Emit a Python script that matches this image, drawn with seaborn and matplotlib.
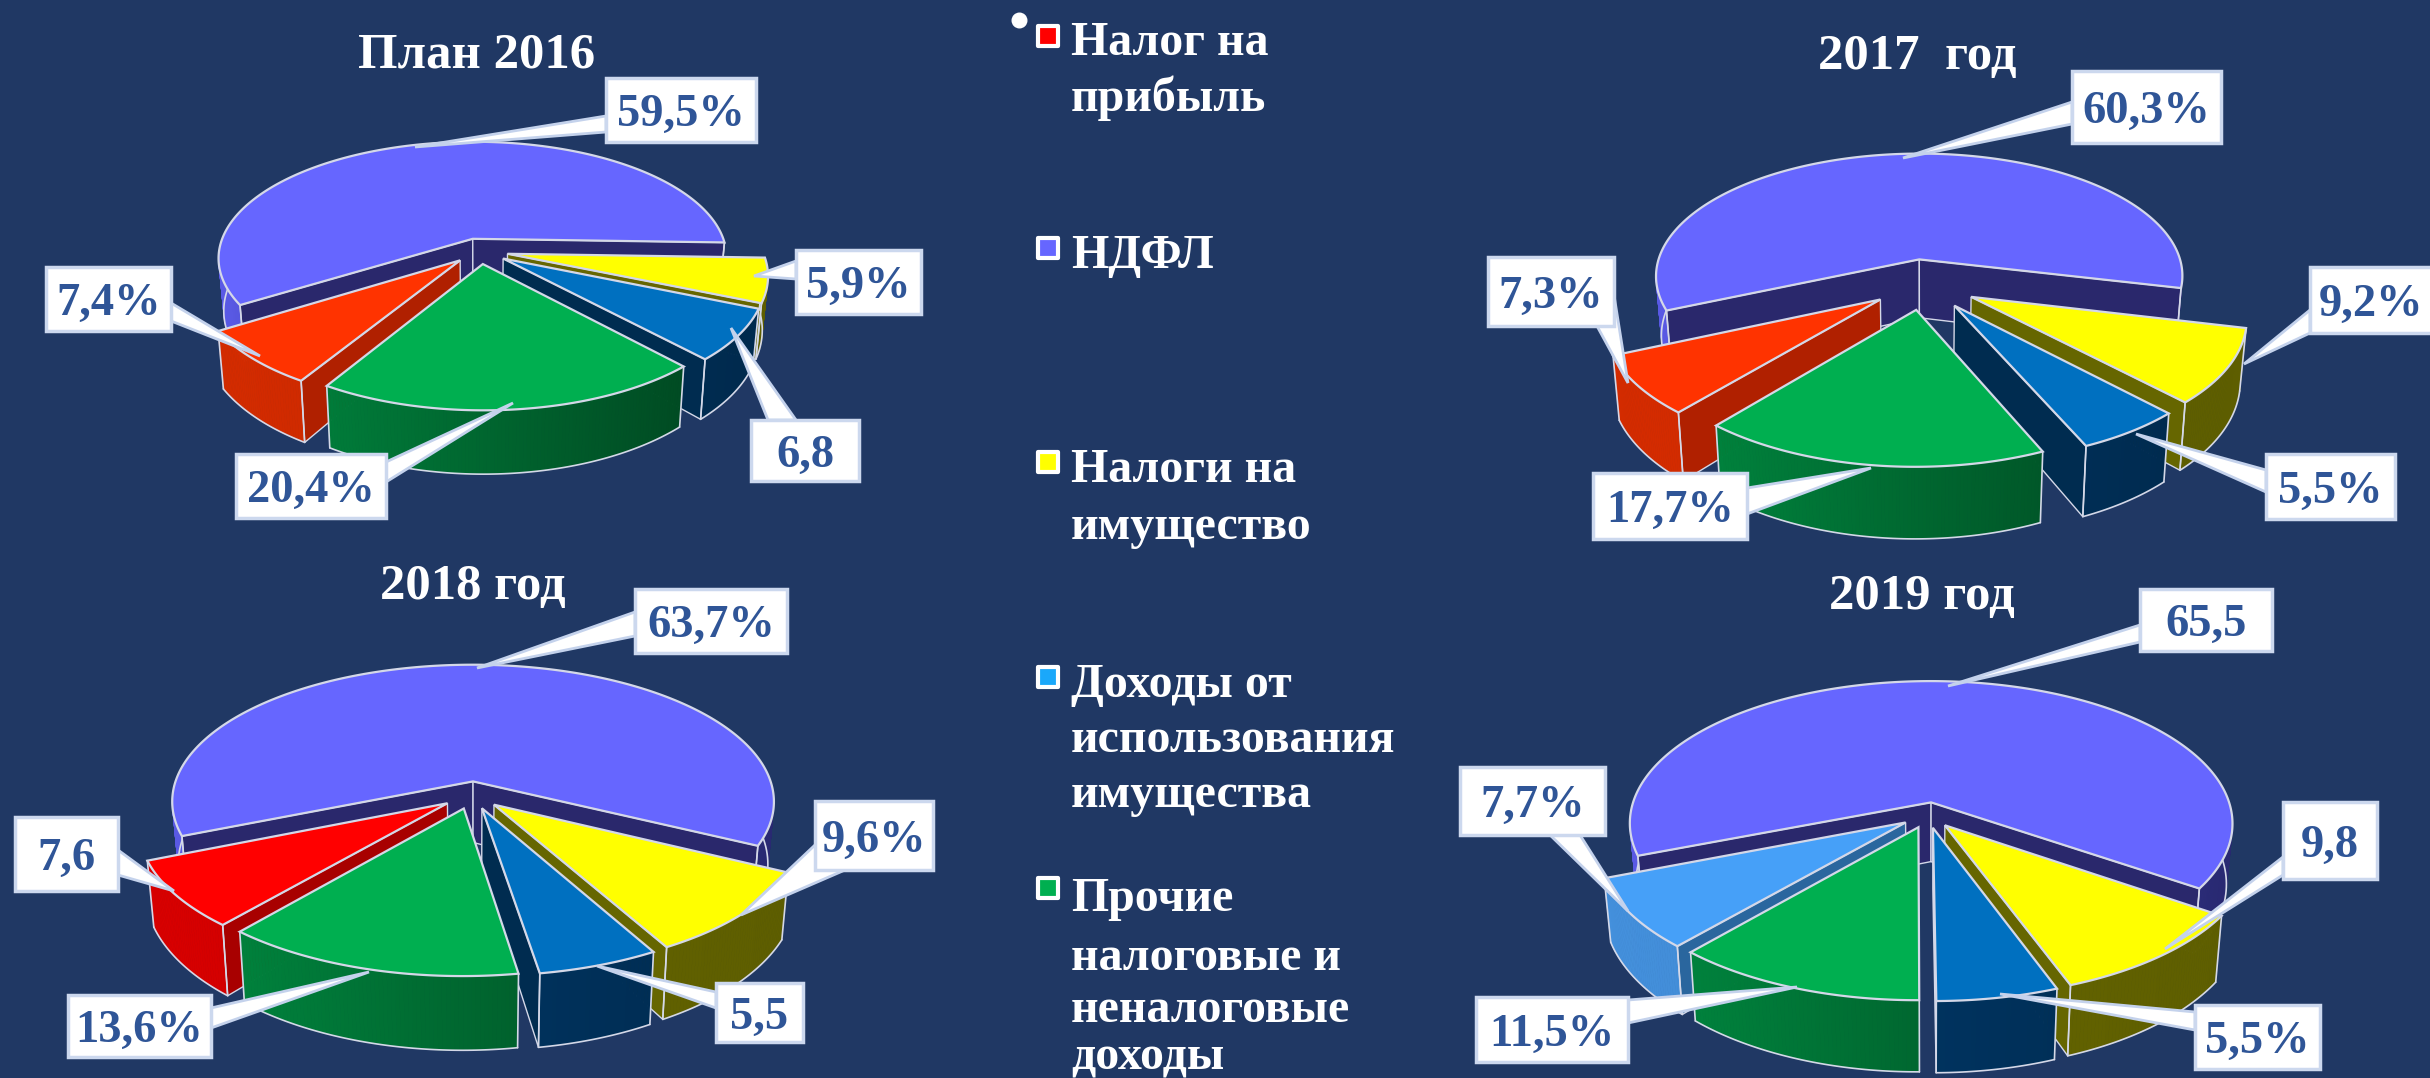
import numpy as np
import pandas as pd
import matplotlib
matplotlib.use("Agg")
import matplotlib.pyplot as plt
from matplotlib.patches import Polygon
import seaborn as sns

# ---------- data ----------
CATEGORIES = ["Налог на прибыль", "НДФЛ", "Налоги на имущество", "Доходы от использования имущества",
              "Прочие налоговые и неналоговые доходы"]
VALUES_2016 = [7.4, 59.5, 5.9, 6.8, 20.4]
VALUES_2017 = [7.3, 60.3, 9.2, 5.5, 17.7]
VALUES_2018 = [7.6, 63.7, 9.6, 5.5, 13.6]
VALUES_2019 = [7.7, 65.5, 9.8, 5.5, 11.5]
LABELS_2016 = ["7,4%", "59,5%", "5,9%", "6,8", "20,4%"]
LABELS_2017 = ["7,3%", "60,3%", "9,2%", "5,5%", "17,7%"]
LABELS_2018 = ["7,6", "63,7%", "9,6%", "5,5", "13,6%"]
LABELS_2019 = ["7,7%", "65,5", "9,8", "5,5%", "11,5%"]
TITLES = ["План 2016", "2017  год", "2018 год", "2019 год"]
LEGEND_LINES = [["Налог на", "прибыль"], ["НДФЛ"], ["Налоги на", "имущество"],
                ["Доходы от", "использования", "имущества"],
                ["Прочие", "налоговые и", "неналоговые", "доходы"]]

# ---------- style ----------
BG = "#203864"
SERIF = "Liberation Serif"
LABEL_BLUE = "#2F5597"
EDGE = "#d4d8e8"
# (top face, wall left, wall right, radial wall)
ORANGE = ("#FF3300", "#D42B00", "#B82400", "#B02000")
PURE_RED = ("#FF0000", "#D80000", "#B00000", "#A80000")
LIGHT = ("#46A0F8", "#4490DC", "#3478B8", "#2A669E")
PURPLE = ("#6666FF", "#5A5AE6", "#282870", "#2A286C")
YELLOW = ("#FFFF00", "#6A6A00", "#5E5E00", "#666600")
BLUE = ("#0070C0", "#003C70", "#002A4E", "#002C50")
GREEN = ("#00AF50", "#008A40", "#00441F", "#00602C")
LEGEND_COLORS = ["#FF0000", "#6666FF", "#FFFF00", "#1AA8FA", "#00AF50"]

# geometry of each pie (pixels): centre, radii, perspective, depth, first-slice angle, explosion
PIES = [
    dict(values=VALUES_2016, labels=LABELS_2016, first=211, c=(480, 251), R=255, Ry=117, p=.167, depth=52, e=.11,
         colors=[ORANGE, PURPLE, YELLOW, BLUE, GREEN], title=(477, 50),
         boxes=[((46, 267, 171, 331), (260, 356), (171, 303), (171, 321)),
                ((606, 78, 756, 142), (415, 147), (606, 116), (606, 132)),
                ((796, 250, 921, 314), (754, 276), (796, 261), (796, 279)),
                ((751, 420, 859, 481), (731, 328), (768, 420), (796, 420)),
                ((236, 454, 386, 518), (513, 403), (386, 462), (386, 482))]),
    dict(values=VALUES_2017, labels=LABELS_2017, first=220, c=(1924, 284), R=268, Ry=127, p=.14, depth=60, e=.2,
         colors=[ORANGE, PURPLE, YELLOW, BLUE, GREEN], title=(1917, 51),
         boxes=[((1488, 257, 1614, 326), (1628, 383), (1597, 326), (1614, 295)),
                ((2072, 71, 2221, 143), (1903, 158), (2072, 102), (2072, 124)),
                ((2310, 267, 2432, 333), (2244, 364), (2310, 310), (2310, 333)),
                ((2266, 454, 2395, 519), (2136, 434), (2266, 470), (2266, 492)),
                ((1593, 473, 1747, 539), (1871, 468), (1747, 488), (1747, 514))]),
    dict(values=VALUES_2018, labels=LABELS_2018, first=220, c=(472, 795), R=302, Ry=138, p=.15, depth=62, e=.1,
         colors=[PURE_RED, PURPLE, YELLOW, BLUE, GREEN], title=(473, 581),
         boxes=[((15, 817, 118, 891), (174, 891), (118, 850), (118, 875)),
                ((635, 589, 787, 653), (477, 668), (635, 612), (635, 636)),
                ((815, 801, 933, 870), (741, 915), (815, 845), (845, 870)),
                ((716, 983, 803, 1042), (597, 966), (716, 992), (716, 1008)),
                ((68, 995, 211, 1057), (369, 972), (211, 1008), (211, 1028))]),
    dict(values=VALUES_2019, labels=LABELS_2019, first=221, c=(1928, 815), R=302, Ry=143, p=.15, depth=60, e=.09,
         colors=[LIGHT, PURPLE, YELLOW, BLUE, GREEN], title=(1922, 591),
         boxes=[((1460, 767, 1605, 835), (1628, 911), (1550, 835), (1580, 835)),
                ((2140, 589, 2272, 651), (1948, 686), (2140, 625), (2140, 642)),
                ((2283, 802, 2377, 879), (2165, 949), (2283, 857), (2283, 875)),
                ((2195, 1005, 2320, 1069), (2000, 994), (2195, 1012), (2195, 1030)),
                ((1476, 997, 1628, 1062), (1797, 987), (1628, 1000), (1628, 1023))]),
]
LEGEND_MARK_X = 1048
LEGEND_MARK_Y = [36, 248, 462, 677, 888]
LEGEND_TEXT_Y = [[38, 93], [251], [465, 522], [680, 735, 790], [894, 953, 1005, 1052]]

sns.set_theme(style="white", rc={"figure.facecolor": BG, "axes.facecolor": BG})
plt.rcParams["font.family"] = [SERIF, "DejaVu Serif"]

fig = plt.figure(figsize=(24.3, 10.78), dpi=100, facecolor=BG)
ax = fig.add_axes([0, 0, 1, 1])


def lerp(c1, c2, t):
    a, b = np.array(matplotlib.colors.to_rgb(c1)), np.array(matplotlib.colors.to_rgb(c2))
    return tuple(a + (b - a) * float(np.clip(t, 0, 1)))


def draw_pie(P):
    cx, cy = P["c"]
    R, Ry, p, depth, e = P["R"], P["Ry"], P["p"], P["depth"], P["e"]

    def proj(X, Y, h=0.0):
        X, Y = np.asarray(X, float), np.asarray(Y, float)
        s = 1.0 / (1.0 - p * Y)
        return np.column_stack([cx + R * X * s * (1 - .02 * h),
                                cy + Ry * Y * s + h * depth * s])

    def d(th):
        return np.sin(np.radians(th)), -np.cos(np.radians(th))

    sweeps = np.array(P["values"]) * 3.6
    starts = P["first"] + np.concatenate([[0], np.cumsum(sweeps)[:-1]])
    order = np.argsort([d(s + w / 2)[1] for s, w in zip(starts, sweeps)])
    eye = np.array([0, 1 / p])
    for rank, i in enumerate(order):
        z = 5 + rank
        a0, w = starts[i], sweeps[i]
        a1 = a0 + w
        top, wl, wr, side = P["colors"][i]
        tip = np.array(d(a0 + w / 2)) * e
        ths = np.linspace(a0, a1, max(int(w * 1.5), 8))
        rx = tip[0] + np.sin(np.radians(ths))
        ry = tip[1] - np.cos(np.radians(ths))

        # outer wall, shaded across its width
        t_pts = proj(rx, ry, 0)
        b_pts = proj(rx, ry, 1)
        xmin, xmax = cx - R * 1.03, cx + R * 1.03
        vis = ry > tip[1] - .35
        for k in range(len(ths) - 1):
            if not (vis[k] or vis[k + 1]):
                continue
            q = [t_pts[k], t_pts[k + 1], b_pts[k + 1], b_pts[k]]
            col = lerp(wl, wr, (t_pts[k][0] - xmin) / (xmax - xmin))
            ax.add_patch(Polygon(q, closed=True, fc=col, ec=col, lw=.6, zorder=z))
        if vis.any():
            ax.plot(b_pts[vis, 0], b_pts[vis, 1], color=EDGE, lw=1.2, zorder=z + .1)

        # radial walls that face the viewer
        for ang, sign in ((a0, -1), (a1, 1)):
            dx, dy = d(ang)
            normal = np.array([-dy, dx]) * sign
            if normal @ (eye - tip) > 0:
                r = np.array([tip, tip + np.array([dx, dy])])
                tw = proj(r[:, 0], r[:, 1], 0)
                bw = proj(r[:, 0], r[:, 1], 1)
                ax.add_patch(Polygon([tw[0], tw[1], bw[1], bw[0]], closed=True, fc=side, ec=EDGE,
                                     lw=1.0, zorder=z + .2))

        # vertical edges at the slice corners
        for k in (0, -1):
            if ry[k] > tip[1] - .35:
                ax.plot([t_pts[k, 0], b_pts[k, 0]], [t_pts[k, 1], b_pts[k, 1]], color=EDGE, lw=1.2, zorder=z + .3)

        # top face
        face = np.vstack([proj([tip[0]], [tip[1]], 0), t_pts])
        ax.add_patch(Polygon(face, closed=True, fc=top, ec=EDGE, lw=1.6, zorder=z + .4))


for P in PIES:
    draw_pie(P)

# callout labels and titles
for P, title in zip(PIES, TITLES):
    for text, (box, tip, b0, b1) in zip(P["labels"], P["boxes"]):
        x0, y0, x1, y1 = box
        ax.add_patch(Polygon([b0, tip, b1], closed=True, fc="white", ec="#c4d2ec", lw=2, zorder=20))
        ax.add_patch(Polygon([(x0, y0), (x1, y0), (x1, y1), (x0, y1)], closed=True, fc="white",
                             ec="#ccd8ee", lw=2.5, zorder=21))
        ax.text((x0 + x1) / 2, (y0 + y1) / 2, text, color=LABEL_BLUE, fontsize=33.5, fontweight="bold",
                family=SERIF, ha="center", va="center_baseline", zorder=22)
    ax.text(P["title"][0], P["title"][1], title, color="white", fontsize=36.5, fontweight="bold",
            family=SERIF, ha="center", va="center_baseline", zorder=22)

# legend
legend_df = pd.DataFrame({"x": [LEGEND_MARK_X] * 5, "y": LEGEND_MARK_Y, "cat": CATEGORIES})
sns.scatterplot(data=legend_df, x="x", y="y", hue="cat", palette=LEGEND_COLORS, marker="s", s=215,
                edgecolor="white", linewidth=3, legend=False, ax=ax, zorder=25)
ax.scatter([1019], [20], s=110, c="white", zorder=25)
for lines, ys in zip(LEGEND_LINES, LEGEND_TEXT_Y):
    for line, y in zip(lines, ys):
        ax.text(1071, y, line, color="white", fontsize=34.5, fontweight="bold", family=SERIF,
                ha="left", va="center_baseline", zorder=25)

ax.set_xlim(0, 2430)
ax.set_ylim(1078, 0)
ax.axis("off")

fig.savefig("out.png", dpi=100, facecolor=BG)
